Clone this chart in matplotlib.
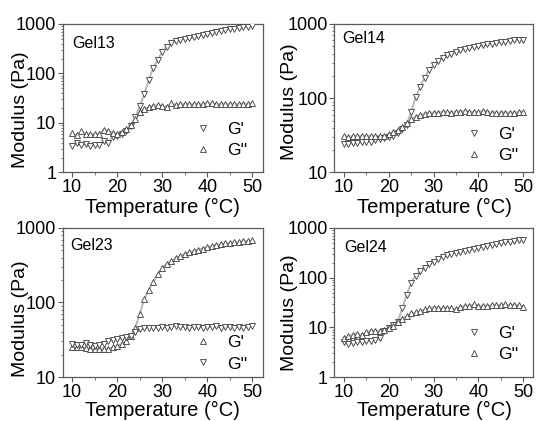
import numpy as np
import matplotlib
matplotlib.use("Agg")
import matplotlib.pyplot as plt
from matplotlib.ticker import MultipleLocator, LogLocator, NullFormatter, FixedLocator

plt.rcParams['font.family'] = ['Liberation Sans', 'DejaVu Sans']

# temperatures (deg C), one point per degree
temp = list(range(10, 51))

# --- Gel13 ---
gel13_gp = [3.5, 3.9, 3.6, 3.7, 3.5, 3.6, 3.6, 4.3, 3.9, 5.3, 5.5, 6.0, 7.0, 8.5, 13, 22, 38,
            74, 130, 190, 275, 350, 410, 450, 480, 500, 520, 540, 560, 600, 630, 670, 700,
            730, 760, 790, 810, 840, 870, 890, 920]
gel13_gpp = [6.2, 5.6, 6.8, 6.0, 5.9, 5.9, 6.0, 7.2, 7.0, 6.3, 6.0, 6.5, 7.5, 9.0, 12, 17, 19,
             21, 22, 23, 22.5, 21, 25, 23, 24, 24, 24, 24, 24, 24, 25, 25, 24, 24, 24.5,
             24, 24, 24, 24.5, 24, 25]

# --- Gel14 ---
gel14_gp = [24, 24, 25, 25, 25.5, 26, 26, 27, 28, 29, 30, 31, 34, 38, 44, 65, 103, 142, 190,
            240, 280, 320, 350, 380, 400, 420, 440, 460, 475, 490, 500, 515, 530, 545, 555,
            565, 580, 590, 600, 610, 615]
gel14_gpp = [31, 30, 31, 31, 31, 31, 31, 31, 31, 31, 33, 35, 37, 41, 46, 52, 56, 60, 62, 64,
             64, 64, 66, 65, 64, 66, 66, 68, 66, 65, 65, 68, 66, 64, 64, 64, 64, 64, 64, 65, 65]

# --- Gel23 ---
gel23_gp = [25, 25, 25, 24.5, 24, 24, 24, 24, 24, 25, 26, 28, 30, 35, 45, 71, 110, 147, 190,
            238, 290, 330, 360, 390, 420, 450, 470, 490, 510, 530, 550, 570, 590, 605, 620,
            630, 640, 650, 660, 670, 680]
gel23_gpp = [28, 27, 27, 28.5, 27, 26, 27, 28, 30, 31, 32, 33, 34, 36, 40, 44, 45, 46, 46, 46,
             47, 46, 47, 49, 47, 47, 46, 47, 47, 46, 47, 47, 48, 46, 47, 47, 46, 47, 46, 47, 48]

# --- Gel24 ---
gel24_gp = [5.0, 4.6, 4.8, 5.0, 5.0, 5.2, 5.4, 5.6, 6.0, 8.5, 9.5, 11, 13, 24, 45, 78, 110,
            135, 160, 185, 210, 240, 260, 280, 300, 315, 330, 345, 360, 375, 400, 420, 440,
            460, 475, 490, 510, 530, 550, 560, 570]
gel24_gpp = [6.0, 6.8, 7.0, 7.5, 7.0, 8.0, 8.5, 8.5, 8.5, 9.0, 9.5, 10.5, 13, 15, 17, 19, 20,
             21, 23, 24, 25, 25, 24, 25, 24, 23, 26, 27, 27, 29, 27, 27, 27, 28, 28, 28, 29,
             28, 28, 28, 26]

panels = [
    # name, G', G'', ylim, marker G', marker G'', axes rect, name pos,
    # ylabel (x, y), xlabel y, legend y
    ("Gel13", gel13_gp, gel13_gpp, (1, 1000), 'v', '^', [0.1155, 0.5903, 0.3683, 0.3527],
     (0.047, 0.872), (-0.212, 0.42), -0.235, 0.015),
    ("Gel14", gel14_gp, gel14_gpp, (10, 1000), 'v', '^', [0.616, 0.5903, 0.3665, 0.3527],
     (0.038, 0.905), (-0.224, 0.475), -0.235, -0.02),
    ("Gel23", gel23_gp, gel23_gpp, (10, 1000), '^', 'v', [0.1155, 0.1045, 0.3683, 0.354],
     (0.036, 0.88), (-0.212, 0.39), -0.222, -0.045),
    ("Gel24", gel24_gp, gel24_gpp, (1, 1000), 'v', '^', [0.616, 0.1045, 0.3665, 0.354],
     (0.05, 0.87), (-0.224, 0.43), -0.222, 0.02),
]

spine_col = '#5a5a5a'
mark_col = '#3a3a3a'
fit_col = '#b8b8b8'

fig = plt.figure(figsize=(5.43, 4.21), dpi=100)

for name, gp, gpp, ylim, m1, m2, rect, npos, yl_pos, xl_y, leg_y in panels:
    ax = fig.add_axes(rect)
    # light grey guide lines under the symbols
    ax.plot(temp, gp, color=fit_col, lw=1.4, zorder=1)
    ax.plot(temp, gpp, color=fit_col, lw=1.4, zorder=1)
    ax.plot(temp, gp, linestyle='none', marker=m1, ms=4.6, mfc='white', mec=mark_col,
            mew=0.6, label="G'", zorder=3)
    ax.plot(temp, gpp, linestyle='none', marker=m2, ms=4.6, mfc='white', mec=mark_col,
            mew=0.6, label="G''", zorder=3)

    ax.set_yscale('log')
    ax.set_ylim(*ylim)
    ax.set_xlim(7.9, 52.3)
    ax.xaxis.set_major_locator(FixedLocator([10, 20, 30, 40, 50]))
    ax.xaxis.set_minor_locator(MultipleLocator(5))
    ax.yaxis.set_major_locator(LogLocator(base=10, numticks=10))
    ax.yaxis.set_minor_locator(LogLocator(base=10, subs=np.arange(2, 10), numticks=10))
    ax.yaxis.set_minor_formatter(NullFormatter())
    ax.yaxis.set_major_formatter(plt.FuncFormatter(lambda v, p: f"{v:g}"))

    for s in ax.spines.values():
        s.set_color(spine_col)
        s.set_linewidth(0.9)
    ax.tick_params(which='major', direction='out', length=3.5, width=0.8, color=spine_col,
                   labelsize=13, pad=1.2)
    ax.tick_params(which='minor', direction='out', length=1.8, width=0.6, color=spine_col)

    ax.set_xlabel("Temperature (\u00b0C)", fontsize=14.5)
    ax.xaxis.label.set_va('center')
    ax.xaxis.set_label_coords(0.5, xl_y)
    ax.set_ylabel("Modulus (Pa)", fontsize=14)
    ax.yaxis.label.set_va('center')
    ax.yaxis.set_label_coords(*yl_pos)

    ax.text(npos[0], npos[1], name, transform=ax.transAxes, fontsize=11.5,
            ha='left', va='center')

    ax.legend(loc='lower right', bbox_to_anchor=(0.985, leg_y), frameon=False, fontsize=12.5,
              handlelength=1.0, handletextpad=0.9, labelspacing=0.35, borderpad=0.2)

fig.savefig("out.png", dpi=100)
